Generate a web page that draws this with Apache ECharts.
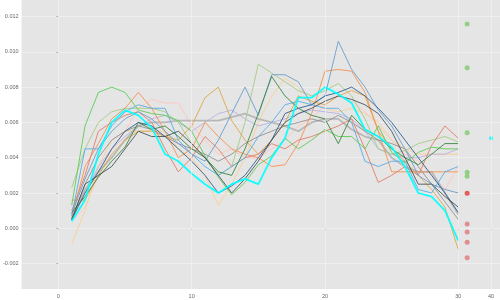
<!DOCTYPE html>
<html><head><meta charset="utf-8">
<script src="https://cdn.jsdelivr.net/npm/echarts@6/dist/echarts.min.js"></script>
<style>html,body{margin:0;padding:0;background:#fff}#c{width:500px;height:300px}</style>
</head><body><div id="c"></div>
<script>
const xs = [1,2,3,4,5,6,7,8,9,10,11,12,13,14,15,16,17,18,19,20,21,22,23,24,25,26,27,28,29,30];
const xTickValues = [0,10,20,30,40];
const xTickLabels = ['0','10','20','30','40'];
const yTickValues = [-0.002,0,0.002,0.004,0.006,0.008,0.010,0.012];
const yTickLabels = ['-0.002','0.000','0.002','0.004','0.006','0.008','0.010','0.012'];

const green   = [0.0013,0.0058,0.0077,0.0080,0.0077,0.0067,0.0065,0.0064,0.0061,0.0055,0.0041,0.0029,0.0019,0.0026,0.0036,0.0041,0.0051,0.0045,0.0050,0.0056,0.0052,0.0052,0.0045,0.0058,0.0043,0.0037,0.0043,0.0046,0.0045,0.0045];
const cyan    = [0.0004,0.0016,0.0042,0.0060,0.0067,0.0064,0.0057,0.0042,0.0038,0.0031,0.0025,0.0020,0.0025,0.0028,0.0025,0.0040,0.0051,0.0074,0.0074,0.0080,0.0076,0.0071,0.0056,0.0052,0.0046,0.0035,0.0020,0.0018,0.0010,-0.0007];
const steel   = [0.0008,0.0028,0.0045,0.0055,0.0062,0.0066,0.0062,0.0055,0.0048,0.0042,0.0038,0.0050,0.0065,0.0080,0.0064,0.0087,0.0087,0.0083,0.0070,0.0075,0.0106,0.0090,0.0080,0.0067,0.0058,0.0045,0.0030,0.0025,0.0022,0.0020];
const navy    = [0.0005,0.0020,0.0032,0.0045,0.0055,0.0060,0.0058,0.0052,0.0045,0.0038,0.0030,0.0020,0.0024,0.0030,0.0040,0.0050,0.0065,0.0068,0.0070,0.0075,0.0077,0.0080,0.0075,0.0068,0.0060,0.0050,0.0040,0.0030,0.0020,0.0009];
const dkgreen = [0.0009,0.0018,0.0029,0.0038,0.0046,0.0060,0.0056,0.0058,0.0052,0.0045,0.0040,0.0032,0.0030,0.0045,0.0065,0.0086,0.0075,0.0068,0.0064,0.0062,0.0048,0.0064,0.0056,0.0052,0.0045,0.0040,0.0036,0.0042,0.0048,0.0048];
const olive   = [0.0023,0.0045,0.0060,0.0066,0.0068,0.0068,0.0068,0.0066,0.0060,0.0048,0.0040,0.0030,0.0035,0.0060,0.0093,0.0088,0.0083,0.0078,0.0075,0.0078,0.0082,0.0075,0.0062,0.0045,0.0042,0.0044,0.0048,0.0050,0.0052,0.0049];
const salmon  = [0.0010,0.0030,0.0055,0.0060,0.0064,0.0066,0.0060,0.0045,0.0032,0.0040,0.0052,0.0045,0.0035,0.0040,0.0042,0.0048,0.0045,0.0050,0.0052,0.0055,0.0058,0.0062,0.0045,0.0026,0.0030,0.0035,0.0030,0.0047,0.0058,0.0051];
const orange  = [0.0006,0.0035,0.0048,0.0062,0.0068,0.0077,0.0068,0.0055,0.0040,0.0045,0.0060,0.0052,0.0045,0.0042,0.0040,0.0035,0.0036,0.0048,0.0065,0.0089,0.0090,0.0089,0.0077,0.0055,0.0032,0.0032,0.0032,0.0032,0.0032,0.0032];
const gold    = [0.0016,0.0016,0.0030,0.0042,0.0050,0.0055,0.0055,0.0052,0.0050,0.0058,0.0074,0.0080,0.0061,0.0050,0.0042,0.0050,0.0060,0.0075,0.0072,0.0070,0.0075,0.0078,0.0075,0.0055,0.0045,0.0038,0.0030,0.0022,0.0012,-0.0012];
const khaki   = [-0.0009,0.0010,0.0035,0.0050,0.0055,0.0055,0.0055,0.0055,0.0045,0.0040,0.0030,0.0013,0.0025,0.0040,0.0060,0.0075,0.0085,0.0080,0.0072,0.0068,0.0066,0.0068,0.0065,0.0060,0.0050,0.0045,0.0042,0.0042,0.0042,0.0042];
const pink    = [0.0004,0.0012,0.0030,0.0045,0.0055,0.0068,0.0073,0.0071,0.0071,0.0058,0.0050,0.0042,0.0045,0.0040,0.0040,0.0045,0.0050,0.0058,0.0062,0.0070,0.0075,0.0072,0.0066,0.0058,0.0050,0.0042,0.0038,0.0030,0.0022,0.0035];
const ltblue  = [0.0007,0.0045,0.0045,0.0058,0.0066,0.0070,0.0068,0.0068,0.0050,0.0042,0.0035,0.0030,0.0035,0.0040,0.0052,0.0060,0.0070,0.0072,0.0070,0.0068,0.0068,0.0060,0.0038,0.0035,0.0038,0.0038,0.0022,0.0020,0.0032,0.0035];
const grey    = [0.0005,0.0022,0.0032,0.0040,0.0050,0.0058,0.0060,0.0060,0.0061,0.0061,0.0061,0.0061,0.0063,0.0065,0.0062,0.0060,0.0058,0.0055,0.0060,0.0062,0.0062,0.0056,0.0052,0.0050,0.0040,0.0035,0.0032,0.0032,0.0020,0.0008];
const lavender= [0.0006,0.0020,0.0035,0.0045,0.0052,0.0058,0.0062,0.0064,0.0060,0.0055,0.0060,0.0065,0.0067,0.0062,0.0058,0.0060,0.0062,0.0065,0.0067,0.0066,0.0065,0.0062,0.0055,0.0045,0.0042,0.0040,0.0040,0.0042,0.0042,0.0045];
const slate   = [0.0005,0.0025,0.0030,0.0035,0.0045,0.0055,0.0052,0.0052,0.0055,0.0048,0.0040,0.0030,0.0020,0.0028,0.0038,0.0050,0.0060,0.0065,0.0068,0.0072,0.0075,0.0073,0.0070,0.0065,0.0055,0.0040,0.0025,0.0025,0.0018,0.0012];
const dimgrey = [0.0005,0.0025,0.0040,0.0050,0.0055,0.0058,0.0056,0.0052,0.0048,0.0045,0.0042,0.0038,0.0042,0.0048,0.0052,0.0055,0.0058,0.0060,0.0062,0.0060,0.0064,0.0060,0.0055,0.0050,0.0048,0.0045,0.0035,0.0025,0.0015,0.0005];

const dotX = 32.7;
const greenDots = [0.01158,0.0091,0.00542,0.00317,0.00295];
const redDots = [0.00198];
const salmonDots = [0.00024,-0.00021,-0.00079,-0.00167];
const cyanDotX = 40;
const cyanDots = [0.0051];

// x axis: linear up to 30, compressed beyond 30
function warp(x){ return x <= 30 ? x : 30 + (x - 30) * 0.246; }

const lineDefs = [
  [pink,'#FFC6C0',1],[khaki,'#F7D096',1],[lavender,'#B9B4E2',1],[grey,'#B4B4B4',1.8],
  [dimgrey,'#8A8A8A',0.9],[olive,'#A7CC88',1],[gold,'#E0A84C',1],[orange,'#F39455',1],
  [salmon,'#E4806A',1],[ltblue,'#5EAEE8',1],[steel,'#6E9FCB',1],[green,'#62CC5A',1],
  [dkgreen,'#3E8A46',1],[navy,'#35648F',1],[slate,'#3A4A55',0.9],[cyan,'#00FFFF',1.8]
];

const series = [];
series.push({type:'line', data:[], z:1, silent:true,
  markLine:{silent:true, symbol:'none', label:{show:false},
    lineStyle:{color:'#F4F4F4', width:0.6, type:'solid'},
    data: xTickValues.map(v => ({xAxis: warp(v)}))}});
lineDefs.forEach(([vals,col,w]) => {
  series.push({type:'line', symbol:'none', z:3, data: xs.map((x,i)=>[warp(x), vals[i]]),
    lineStyle:{color:col, width:w, opacity:0.92}, itemStyle:{color:col}});
});
function dots(xv, vals, col, size){
  return {type:'scatter', z:4, symbolSize:size, data: vals.map(v=>[warp(xv), v]), itemStyle:{color:col}};
}
series.push(dots(dotX, greenDots, '#7DCA6E', 5));
series.push(dots(dotX, salmonDots, '#E07878', 5));
series.push(dots(dotX, redDots, '#E03A3A', 5));
series.push(dots(cyanDotX, cyanDots, '#00FFFF', 4));

const chart = echarts.init(document.getElementById('c'), null, {renderer:'canvas'});
chart.setOption({
  animation:false,
  backgroundColor:'#ffffff',
  grid:{left:19, right:0, top:0, bottom:11, show:true, backgroundColor:'#E5E5E5', borderWidth:0},
  xAxis:{type:'value', min:-2.76, max:33.13,
    axisLine:{show:false},
    axisTick:{show:true, length:2, lineStyle:{color:'#888', width:0.6}, customValues: xTickValues.map(warp)},
    axisLabel:{fontSize:5.5, color:'#666', margin:4, fontFamily:'Liberation Sans',
      customValues: xTickValues.map(warp),
      formatter: v => { let b=0, d=1e9; xTickValues.forEach((t,i)=>{const dd=Math.abs(warp(t)-v); if(dd<d){d=dd;b=i;}}); return xTickLabels[b]; }},
    splitLine:{show:false}},
  yAxis:{type:'value', min:-0.003439, max:0.012935,
    axisLine:{show:false},
    axisTick:{show:true, length:2, lineStyle:{color:'#888', width:0.6}, customValues: yTickValues},
    axisLabel:{fontSize:5.5, color:'#666', margin:3, fontFamily:'Liberation Sans',
      customValues: yTickValues,
      formatter: v => { let b=0, d=1e9; yTickValues.forEach((t,i)=>{const dd=Math.abs(t-v); if(dd<d){d=dd;b=i;}}); return yTickLabels[b]; }},
    splitLine:{show:true, lineStyle:{color:'#F4F4F4', width:0.6}}},
  series: series
});
</script></body></html>
